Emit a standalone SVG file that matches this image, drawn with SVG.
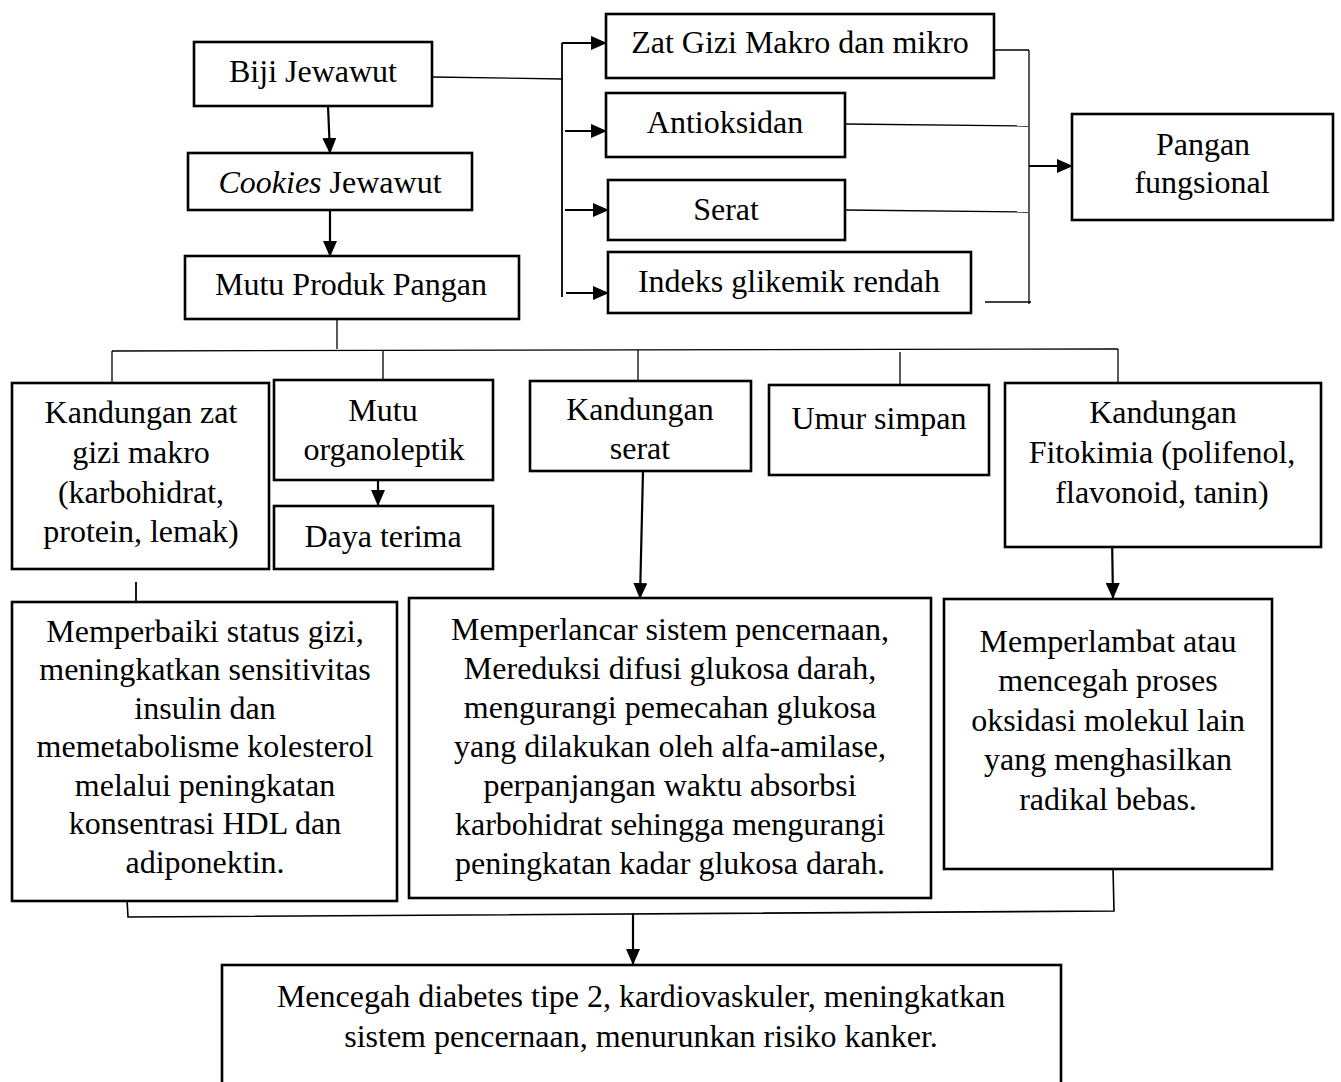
<svg xmlns="http://www.w3.org/2000/svg" width="1341" height="1082" viewBox="0 0 1341 1082">
<style>
.box{fill:#fff;stroke:#000;stroke-width:2.6}
.t{font-family:"Liberation Serif","Times New Roman",serif;font-size:32px;fill:#000;text-anchor:middle}
.ln{fill:none;stroke:#000;stroke-width:1.3}
.ar{fill:none;stroke:#000;stroke-width:2.2;marker-end:url(#ah)}
</style>
<defs>
<marker id="ah" viewBox="0 0 16 14" refX="15" refY="7" markerWidth="16" markerHeight="14" orient="auto" markerUnits="userSpaceOnUse">
<path d="M0,0 L16,7 L0,14 z" fill="#000"/>
</marker>
</defs>
<rect width="1341" height="1082" fill="#fff"/>

<g id="connectors">
<line class="ar" x1="328" y1="106" x2="330" y2="153"/>
<line class="ar" x1="330" y1="210" x2="330" y2="256"/>
<line class="ln" x1="432" y1="77" x2="563" y2="79"/>
<line class="ln" x1="562" y1="43" x2="562" y2="297" style="stroke-width:1.8"/>
<line class="ar" x1="562" y1="43" x2="606" y2="43"/>
<line class="ar" x1="565" y1="131" x2="606" y2="131"/>
<line class="ar" x1="565" y1="210" x2="608" y2="210"/>
<line class="ar" x1="566" y1="293" x2="608" y2="293"/>
<line class="ln" x1="994" y1="50" x2="1029" y2="50"/>
<line class="ln" x1="845" y1="124" x2="1028" y2="126"/>
<line class="ln" x1="845" y1="210" x2="1028" y2="212"/>
<line class="ln" x1="985" y1="302" x2="1031" y2="302"/>
<line class="ln" x1="1029" y1="50" x2="1029" y2="304"/>
<line class="ar" x1="1029" y1="166" x2="1072" y2="166"/>
<line class="ln" x1="337" y1="312" x2="337" y2="349"/>
<line class="ln" x1="112" y1="351" x2="1118" y2="349"/>
<line class="ln" x1="112" y1="351" x2="112" y2="383"/>
<line class="ln" x1="383" y1="350" x2="383" y2="384"/>
<line class="ln" x1="638" y1="350" x2="638" y2="387"/>
<line class="ln" x1="900" y1="352" x2="900" y2="388"/>
<line class="ln" x1="1118" y1="349" x2="1118" y2="384"/>
<line class="ar" x1="378" y1="468" x2="378" y2="505"/>
<line class="ln" x1="136" y1="582" x2="136" y2="602" style="stroke-width:1.8"/>
<line class="ar" x1="643" y1="471" x2="640" y2="598"/>
<line class="ar" x1="1112" y1="536" x2="1113" y2="598"/>
<polyline class="ln" points="127,899 128,917 1114,911 1113,868" style="stroke-width:1.6"/>
<line class="ar" x1="633" y1="913" x2="633" y2="964"/>
</g>

<g id="biji"><rect class="box" x="194" y="42" width="238" height="64"/><text class="t" x="313" y="82">Biji Jewawut</text></g>
<g id="cookies"><rect class="box" x="188" y="153" width="284" height="57"/><text class="t" x="330" y="193"><tspan font-style="italic">Cookies</tspan> Jewawut</text></g>
<g id="mutu-produk"><rect class="box" x="185" y="256" width="334" height="63"/><text class="t" x="351" y="295">Mutu Produk Pangan</text></g>

<g id="zat-gizi"><rect class="box" x="606" y="14" width="388" height="64"/><text class="t" x="800" y="53">Zat Gizi Makro dan mikro</text></g>
<g id="antioksidan"><rect class="box" x="606" y="93" width="239" height="64"/><text class="t" x="725" y="133">Antioksidan</text></g>
<g id="serat"><rect class="box" x="608" y="180" width="237" height="60"/><text class="t" x="726" y="220">Serat</text></g>
<g id="indeks"><rect class="box" x="608" y="252" width="363" height="61"/><text class="t" x="789" y="292">Indeks glikemik rendah</text></g>
<g id="pangan"><rect class="box" x="1072" y="114" width="261" height="106"/><text class="t" x="1203" y="155">Pangan</text><text class="t" x="1202" y="193">fungsional</text></g>

<g id="kandungan-zat"><rect class="box" x="12" y="383" width="257" height="186"/>
<text class="t" x="141" y="423">Kandungan zat</text><text class="t" x="141" y="463">gizi makro</text><text class="t" x="141" y="503">(karbohidrat,</text><text class="t" x="141" y="542">protein, lemak)</text></g>
<g id="mutu-organoleptik"><rect class="box" x="274" y="380" width="219" height="100"/><text class="t" x="383" y="421">Mutu</text><text class="t" x="384" y="460">organoleptik</text></g>
<g id="daya-terima"><rect class="box" x="274" y="506" width="219" height="63"/><text class="t" x="383" y="547">Daya terima</text></g>
<g id="kandungan-serat"><rect class="box" x="530" y="381" width="221" height="90"/><text class="t" x="640" y="420">Kandungan</text><text class="t" x="640" y="459">serat</text></g>
<g id="umur-simpan"><rect class="box" x="769" y="385" width="220" height="90"/><text class="t" x="879" y="429">Umur simpan</text></g>
<g id="fitokimia"><rect class="box" x="1005" y="383" width="316" height="164"/>
<text class="t" x="1163" y="423">Kandungan</text><text class="t" x="1162" y="463">Fitokimia (polifenol,</text><text class="t" x="1162" y="503">flavonoid, tanin)</text></g>

<g id="memperbaiki"><rect class="box" x="12" y="602" width="385" height="299"/>
<text class="t" x="205" y="642">Memperbaiki status gizi,</text>
<text class="t" x="205" y="680">meningkatkan sensitivitas</text>
<text class="t" x="205" y="719">insulin dan</text>
<text class="t" x="205" y="757">memetabolisme kolesterol</text>
<text class="t" x="205" y="796">melalui peningkatan</text>
<text class="t" x="205" y="834">konsentrasi HDL dan</text>
<text class="t" x="205" y="873">adiponektin.</text></g>

<g id="memperlancar"><rect class="box" x="409" y="598" width="522" height="300"/>
<text class="t" x="670" y="640">Memperlancar sistem pencernaan,</text>
<text class="t" x="670" y="679">Mereduksi difusi glukosa darah,</text>
<text class="t" x="670" y="718">mengurangi pemecahan glukosa</text>
<text class="t" x="670" y="757">yang dilakukan oleh alfa-amilase,</text>
<text class="t" x="670" y="796">perpanjangan waktu absorbsi</text>
<text class="t" x="670" y="835">karbohidrat sehingga mengurangi</text>
<text class="t" x="670" y="874">peningkatan kadar glukosa darah.</text></g>

<g id="memperlambat"><rect class="box" x="944" y="599" width="328" height="270"/>
<text class="t" x="1108" y="652">Memperlambat atau</text>
<text class="t" x="1108" y="691">mencegah proses</text>
<text class="t" x="1108" y="731">oksidasi molekul lain</text>
<text class="t" x="1108" y="770">yang menghasilkan</text>
<text class="t" x="1108" y="810">radikal bebas.</text></g>

<g id="mencegah"><rect class="box" x="222" y="965" width="839" height="130"/>
<text class="t" x="641" y="1007">Mencegah diabetes tipe 2, kardiovaskuler, meningkatkan</text>
<text class="t" x="641" y="1047">sistem pencernaan, menurunkan risiko kanker.</text></g>
</svg>
